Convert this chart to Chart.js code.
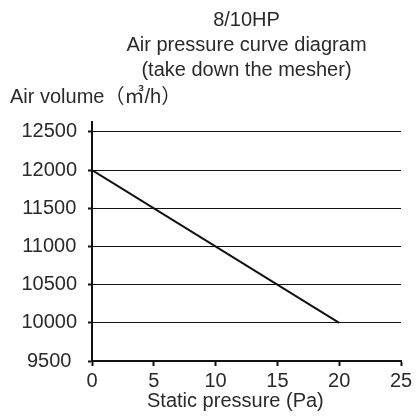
<!DOCTYPE html>
<html>
<head>
<meta charset="utf-8">
<script src="https://cdn.jsdelivr.net/npm/chart.js@4.4.1/dist/chart.umd.min.js"></script>
<style>
  html, body { margin: 0; padding: 0; background: #fff; }
  #wrap { width: 417px; height: 419px; }
</style>
</head>
<body>
<div id="wrap"><canvas id="chart"></canvas></div>
<script>
// values
const staticPressure = [0, 20];          // Pa
const airVolume = [12000, 10000];        // m3/h
const xTickValues = [0, 5, 10, 15, 20, 25];
const yTickValues = [9500, 10000, 10500, 11000, 11500, 12000, 12500];

const titleLines = ['8/10HP', 'Air pressure curve diagram', '(take down the mesher)'];
const yAxisLabel = 'Air volume（㎥/h）';
const xAxisLabel = 'Static pressure (Pa)';

const textColor = '#2a2a2a';
const fontFamily = '"Liberation Sans", Arial, "Noto Sans CJK SC", sans-serif';

const points = staticPressure.map((p, i) => ({ x: p, y: airVolume[i] }));

const ctx = document.getElementById('chart').getContext('2d');
const chart = new Chart(ctx, {
    type: 'line',
    data: {
        datasets: [{
            data: points,
            borderColor: '#111',
            borderWidth: 2,
            pointRadius: 0,
            fill: false,
            tension: 0
        }]
    },
    options: {
        responsive: true,
        maintainAspectRatio: false,
        animation: false,
        layout: { padding: { left: 10, right: 16, top: 0, bottom: 0 } },
        plugins: {
            legend: { display: false },
            tooltip: { enabled: false },
            title: {
                display: true,
                fullSize: false,
                text: titleLines,
                color: textColor,
                font: { family: fontFamily, size: 20, weight: 'normal', lineHeight: 1.25 },
                padding: { top: 8, bottom: 0 }
            },
            subtitle: {
                display: true,
                align: 'start',
                text: yAxisLabel,
                color: textColor,
                font: { family: fontFamily, size: 20, weight: 'normal', lineHeight: 1.2 },
                padding: { top: 2, bottom: 13 }
            }
        },
        scales: {
            x: {
                type: 'linear',
                min: 0,
                max: 25,
                afterBuildTicks: (scale) => { scale.ticks = xTickValues.map(v => ({ value: v })); },
                border: { display: true, color: '#111', width: 2 },
                grid: {
                    drawOnChartArea: false,
                    drawTicks: true,
                    tickLength: 5,
                    tickColor: '#111',
                    tickWidth: 2
                },
                ticks: {
                    color: textColor,
                    padding: 3,
                    maxRotation: 0,
                    callback: (v) => String(v),
                    font: { family: fontFamily, size: 20 }
                },
                title: {
                    display: true,
                    // trailing spaces nudge the centred label left, as in the source
                    text: xAxisLabel + '    ',
                    color: textColor,
                    font: { family: fontFamily, size: 20 },
                    padding: { top: -7, bottom: 6 }
                }
            },
            y: {
                type: 'linear',
                min: 9500,
                max: 12630,
                afterBuildTicks: (scale) => { scale.ticks = yTickValues.map(v => ({ value: v })); },
                afterFit: (scale) => { scale.width = 82; },
                border: { display: true, color: '#111', width: 2 },
                grid: {
                    color: '#111',
                    lineWidth: 1,
                    drawTicks: true,
                    tickLength: 4,
                    tickColor: '#111',
                    tickWidth: 2
                },
                ticks: {
                    color: textColor,
                    padding: 11,
                    crossAlign: 'center',
                    callback: (v) => String(v),
                    font: { family: fontFamily, size: 20 }
                }
            }
        }
    }
});
</script>
</body>
</html>
